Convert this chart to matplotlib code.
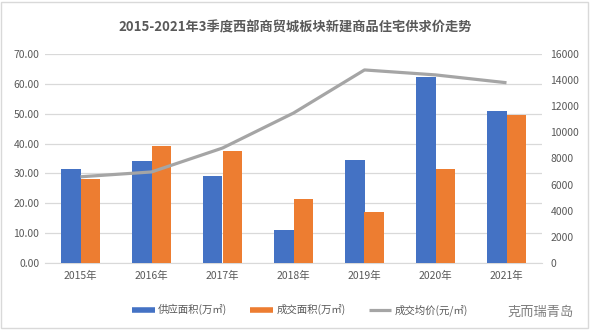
import matplotlib
matplotlib.use("Agg")
import matplotlib.pyplot as plt
import numpy as np
from matplotlib.lines import Line2D
from matplotlib.patches import Rectangle

plt.rcParams['font.family'] = ['Noto Sans CJK SC', 'DejaVu Sans']

years = ['2015年', '2016年', '2017年', '2018年', '2019年', '2020年', '2021年']
supply = [31.5, 34.2, 29.1, 11.1, 34.5, 62.4, 50.9]
deal = [28.1, 39.2, 37.5, 21.4, 17.1, 31.5, 49.6]
price = [6600, 6970, 8800, 11480, 14780, 14400, 13800]

blue = '#4472C4'
orange = '#ED7D31'
gray = '#A5A5A5'
txt = '#595959'

fig = plt.figure(figsize=(5.91, 3.32), dpi=100)
W, H = 591, 332
ax = fig.add_axes([45 / W, 1 - 263 / H, 497 / W, 209 / H])
ax2 = ax.twinx()

x = np.arange(len(years))
bw = 0.28
ax.bar(x - bw / 2, supply, bw, color=blue, zorder=3)
ax.bar(x + bw / 2, deal, bw, color=orange, zorder=3)
ax2.plot(x, price, color=gray, lw=2.3, solid_capstyle='butt', zorder=4)

ax.set_xlim(-0.5, len(years) - 0.5)
ax.set_ylim(0, 70)
ax.set_yticks(np.arange(0, 71, 10))
ax.set_yticklabels([f'{v:.2f}' for v in np.arange(0, 71, 10)])
ax2.set_ylim(0, 16000)
ax2.set_yticks(np.arange(0, 16001, 2000))
ax.set_xticks(x)
ax.set_xticklabels(years)

ax.grid(axis='y', color='#D9D9D9', lw=0.9, zorder=0)
ax.set_axisbelow(True)
for a in (ax, ax2):
    for s in a.spines.values():
        s.set_visible(False)
    a.tick_params(length=0, labelsize=7.5, labelcolor=txt)
ax.spines['bottom'].set_visible(True)
ax.spines['bottom'].set_color('#D9D9D9')
ax.tick_params(axis='y', pad=4)
ax.tick_params(axis='x', pad=6)
ax2.tick_params(axis='y', pad=6)

fig.text(0.5, 1 - 27 / H, '2015-2021年3季度西部商贸城板块新建商品住宅供求价走势',
         ha='center', va='center', fontsize=9.5, fontweight='bold', color=txt)

handles = [Line2D([], [], color=blue, lw=4, solid_capstyle='butt'),
           Line2D([], [], color=orange, lw=4, solid_capstyle='butt'),
           Line2D([], [], color=gray, lw=2.3, solid_capstyle='butt')]
labels = ['供应面积(万㎡)', '成交面积(万㎡)', '成交均价(元/㎡)']
fig.legend(handles, labels, loc='center', bbox_to_anchor=(300 / W, 1 - 310 / H),
           ncol=3, frameon=False, fontsize=7.5, handlelength=2.2, handletextpad=0.3,
           columnspacing=2.2, labelcolor=txt)

fig.text(574 / W, 1 - 312 / H, '克而瑞青岛', ha='right', va='center',
         fontsize=9.5, color='#7F7F7F')
fig.patches.append(Rectangle((1 / W, 4 / H), 587 / W, 326 / H, transform=fig.transFigure,
                             fill=False, edgecolor='#D9D9D9', lw=1))

fig.savefig('out.png', dpi=100)
